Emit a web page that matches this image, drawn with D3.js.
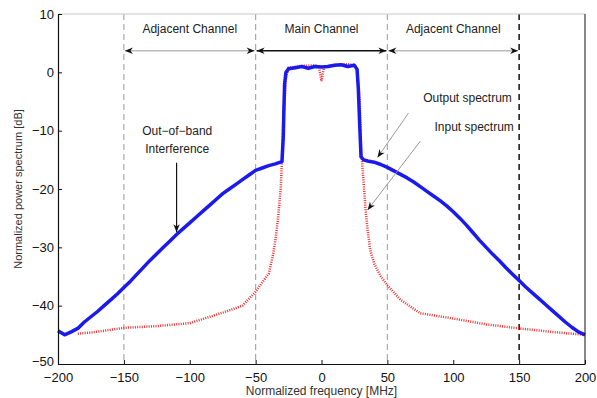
<!DOCTYPE html>
<html lang="en">
<head>
  <meta charset="UTF-8">
  <title>Power spectrum</title>
  <script src="https://d3js.org/d3.v7.min.js"></script>
  <style>
    body { margin: 0; background: #fff; font-family: 'Liberation Sans', Arial, sans-serif; }
    .tick text { font-size: 13px; fill: #111; }
    .note { font-size: 12px; fill: #222; }
  </style>
</head>
<body>
  <svg width="597" height="398"></svg>
  <script>
    // output spectrum (blue) [MHz, dB]
    const outFreq = [-200,-195,-190,-185,-180,-175,-170,-165,-160,-155,-150,-145,-140,-135,-130,-125,-120,-115,-110,-105,-100,-95,-90,-85,-80,-75,-70,-65,-60,-55,-50,-45,-40,-35,-30,-29,-28.5,-28,-27,-25,-20,-15,-10,-5,0,5,10,15,20,25,27,28,29,30,32,35,40,45,50,55,60,65,70,75,80,85,90,95,100,105,110,115,120,125,130,135,140,145,150,155,160,165,170,175,180,185,190,195,200];
    const outDb   = [-44.3,-45,-44.5,-43.9,-42.8,-41.9,-41,-40,-39,-38,-36.9,-35.8,-34.6,-33.4,-32.2,-31.1,-30,-28.9,-27.8,-26.8,-25.8,-24.8,-23.8,-22.8,-21.8,-20.8,-20,-19.2,-18.4,-17.6,-16.8,-16.4,-16,-15.7,-15.3,-11,-6,-2,0,0.6,0.8,1,0.7,1,0.9,1,1.2,1.3,1.0,1.2,0.5,-3,-9,-14.5,-15,-15.2,-15.4,-15.8,-16.3,-16.9,-17.5,-18.1,-18.8,-19.6,-20.4,-21.2,-22,-22.9,-23.9,-25,-26.2,-27.5,-28.8,-30,-31.2,-32.3,-33.5,-34.6,-35.7,-36.8,-37.8,-38.8,-39.8,-40.8,-41.8,-42.8,-43.7,-44.5,-45];

    // input spectrum (red dotted)
    const inFreq = [-185,-175,-165,-150,-125,-100,-75,-60,-50,-45,-40,-37,-35,-33,-31,-30,-29,-27,-25,-15,-5,-2,0,2,10,20,25,27,29,30,31,32,33.5,35,37,40,45,50,60,75,100,125,150,175,200];
    const inDb   = [-44.8,-44.6,-44.3,-43.8,-43.5,-43,-41.2,-40,-37.6,-36,-34.5,-31.5,-28.8,-25,-20,-15,-8,-1,0.8,1.1,1.2,1,-1.5,1,1.3,1.4,1.3,0.5,-5,-13,-16,-19,-23.7,-27,-30.5,-32.8,-35,-36.5,-39,-41.3,-42.2,-43.2,-43.9,-44.5,-45];

    const xTicks = [-200,-150,-100,-50,0,50,100,150,200];
    const yTicks = [-50,-40,-30,-20,-10,0,10];
    const bandEdges = [-150,-50,50,150];
    const bands = [
      { name: "Adjacent Channel", from: -150, to: -50, line: "#bbb" },
      { name: "Main Channel", from: -50, to: 50, line: "#111" },
      { name: "Adjacent Channel", from: 50, to: 150, line: "#bbb" }
    ];

    const svg = d3.select("svg");
    const x = d3.scaleLinear().domain([-200, 200]).range([58, 585]);
    const y = d3.scaleLinear().domain([-50, 10]).range([364, 14]);

    const defs = svg.append("defs");
    defs.append("marker")
      .attr("id", "head")
      .attr("viewBox", "0 -5 10 10")
      .attr("refX", 10).attr("refY", 0)
      .attr("markerWidth", 10).attr("markerHeight", 8)
      .attr("markerUnits", "userSpaceOnUse")
      .attr("orient", "auto-start-reverse")
      .append("path")
      .attr("d", "M0,-4L10,0L0,4L3,0Z")
      .attr("fill", "#111");

    // dashed channel boundaries
    svg.selectAll("line.edge")
      .data(bandEdges)
      .join("line")
      .attr("class", "edge")
      .attr("x1", d => x(d)).attr("x2", d => x(d))
      .attr("y1", y(10)).attr("y2", y(-50))
      .attr("stroke", d => d === 150 ? "#111" : "#aaa")
      .attr("stroke-width", d => d === 150 ? 1.5 : 1.2)
      .attr("stroke-dasharray", "6,4");

    // input spectrum
    const inLine = d3.line().x((d, i) => x(inFreq[i])).y(d => y(d));
    svg.append("path")
      .attr("d", inLine(inDb))
      .attr("fill", "none")
      .attr("stroke", "#f03030")
      .attr("stroke-width", 2.5)
      .attr("stroke-dasharray", "1,1.3");

    // output spectrum
    const outLine = d3.line().x((d, i) => x(outFreq[i])).y(d => y(d));
    svg.append("path")
      .attr("d", outLine(outDb))
      .attr("fill", "none")
      .attr("stroke", "#1a1aee")
      .attr("stroke-width", 3.5)
      .attr("stroke-linejoin", "round");

    // frame
    svg.append("line").attr("x1", x(-200)).attr("x2", x(200)).attr("y1", y(10)).attr("y2", y(10))
      .attr("stroke", "#c8c8c8");
    svg.append("line").attr("x1", x(200)).attr("x2", x(200)).attr("y1", y(10)).attr("y2", y(-50))
      .attr("stroke", "#111");

    const xAxis = svg.append("g")
      .attr("transform", `translate(0,${y(-50)})`)
      .call(d3.axisBottom(x).tickValues(xTicks).tickFormat(d => d < 0 ? "\u2212" + Math.abs(d) : d)
        .tickSizeInner(-4).tickSizeOuter(0).tickPadding(9));
    const yAxis = svg.append("g")
      .attr("transform", `translate(${x(-200)},0)`)
      .call(d3.axisLeft(y).tickValues(yTicks).tickFormat(d => d < 0 ? "\u2212" + Math.abs(d) : d)
        .tickSizeInner(-4).tickSizeOuter(0).tickPadding(4));
    [xAxis, yAxis].forEach(a => {
      a.select(".domain").attr("stroke", "#111").attr("stroke-width", 1.2);
      a.selectAll(".tick line").attr("stroke", "#111");
      a.selectAll(".tick text").attr("font-family", "'Liberation Sans', Arial, sans-serif");
    });
    // keep the lowest y label clear of the x labels
    yAxis.selectAll(".tick text").filter(d => d === -50).attr("dy", "0.1em");

    svg.append("text")
      .attr("x", x(0)).attr("y", 395)
      .attr("text-anchor", "middle")
      .attr("font-size", 12).attr("fill", "#333")
      .text("Normalized frequency [MHz]");
    svg.append("text")
      .attr("transform", `translate(22,${y(-20)}) rotate(-90)`)
      .attr("text-anchor", "middle")
      .attr("font-size", 11).attr("fill", "#333")
      .text("Normalized power spectrum [dB]");

    // channel arrows and labels
    svg.selectAll("line.band")
      .data(bands)
      .join("line")
      .attr("class", "band")
      .attr("x1", d => x(d.from) + 1).attr("x2", d => x(d.to) - 1)
      .attr("y1", y(3.7)).attr("y2", y(3.7))
      .attr("stroke", d => d.line)
      .attr("stroke-width", 1.5)
      .attr("marker-start", "url(#head)")
      .attr("marker-end", "url(#head)");
    svg.selectAll("text.band")
      .data(bands)
      .join("text")
      .attr("class", "note band")
      .attr("x", d => x((d.from + d.to) / 2))
      .attr("y", y(6.7))
      .attr("text-anchor", "middle")
      .text(d => d.name);

    // annotations
    svg.append("text").attr("class", "note").attr("x", x(-109.5)).attr("y", y(-10.8))
      .attr("text-anchor", "middle").text("Out\u2212of\u2212band");
    svg.append("text").attr("class", "note").attr("x", x(-109.5)).attr("y", y(-13.9))
      .attr("text-anchor", "middle").text("Interference");
    svg.append("line")
      .attr("x1", x(-110)).attr("x2", x(-110))
      .attr("y1", y(-15.5)).attr("y2", y(-27.4))
      .attr("stroke", "#111").attr("stroke-width", 1.2)
      .attr("marker-end", "url(#head)");

    svg.append("text").attr("class", "note").attr("x", x(144.5)).attr("y", y(-5.1))
      .attr("text-anchor", "end").text("Output spectrum");
    svg.append("text").attr("class", "note").attr("x", x(146)).attr("y", y(-10))
      .attr("text-anchor", "end").text("Input spectrum");
    svg.append("line")
      .attr("x1", x(66)).attr("x2", x(42.5))
      .attr("y1", y(-7)).attr("y2", y(-14.6))
      .attr("stroke", "#999").attr("stroke-width", 1)
      .attr("marker-end", "url(#head)");
    svg.append("line")
      .attr("x1", x(75)).attr("x2", x(35))
      .attr("y1", y(-11.8)).attr("y2", y(-23.6))
      .attr("stroke", "#999").attr("stroke-width", 1)
      .attr("marker-end", "url(#head)");
  </script>
</body>
</html>
